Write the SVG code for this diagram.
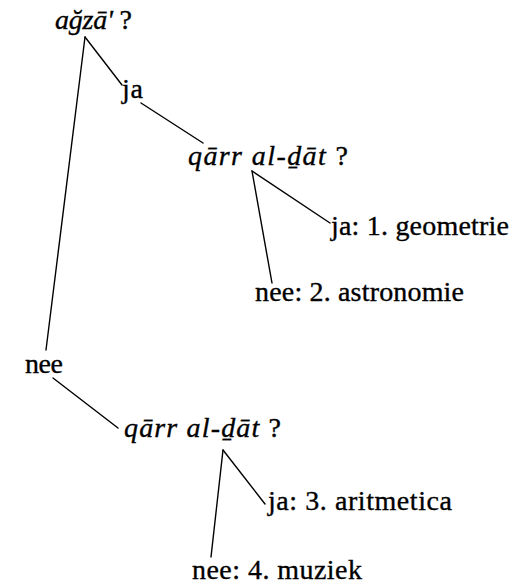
<svg xmlns="http://www.w3.org/2000/svg" width="517" height="586" viewBox="0 0 517 586">
<style>
text{font-family:"Liberation Serif","Times New Roman",serif;font-size:28px;fill:#000;stroke:#000;stroke-width:0.35}
.it{font-style:italic}
.edge{stroke:#000;stroke-width:1.4;fill:none;stroke-linecap:round}
</style>
<rect width="517" height="586" fill="#fff"/>
<g id="connectors">
<line class="edge" x1="85" y1="37" x2="122" y2="85"/>
<line class="edge" x1="85" y1="37" x2="46" y2="350"/>
<line class="edge" x1="141" y1="103" x2="203" y2="143"/>
<line class="edge" x1="252" y1="171" x2="330" y2="223"/>
<line class="edge" x1="252" y1="171" x2="272" y2="283"/>
<line class="edge" x1="53" y1="378" x2="118" y2="428"/>
<line class="edge" x1="223" y1="450" x2="265" y2="504"/>
<line class="edge" x1="223" y1="450" x2="211" y2="557"/>
</g>
<g id="root"><text x="55" y="29" textLength="77"><tspan class="it">ağzā'</tspan> ?</text></g>
<g id="ja1"><text x="122" y="98" textLength="21">ja</text></g>
<g id="q1"><text x="188" y="165" textLength="160"><tspan class="it">qārr  al-ḏāt</tspan> ?</text></g>
<g id="geometrie"><text x="331" y="235" textLength="178">ja: 1. geometrie</text></g>
<g id="astronomie"><text x="255" y="301" textLength="209">nee: 2. astronomie</text></g>
<g id="nee1"><text x="25" y="373" textLength="38">nee</text></g>
<g id="q2"><text x="124" y="437" textLength="157"><tspan class="it">qārr  al-ḏāt</tspan> ?</text></g>
<g id="aritmetica"><text x="268" y="510" textLength="184">ja: 3. aritmetica</text></g>
<g id="muziek"><text x="192" y="579" textLength="170">nee: 4. muziek</text></g>
</svg>
